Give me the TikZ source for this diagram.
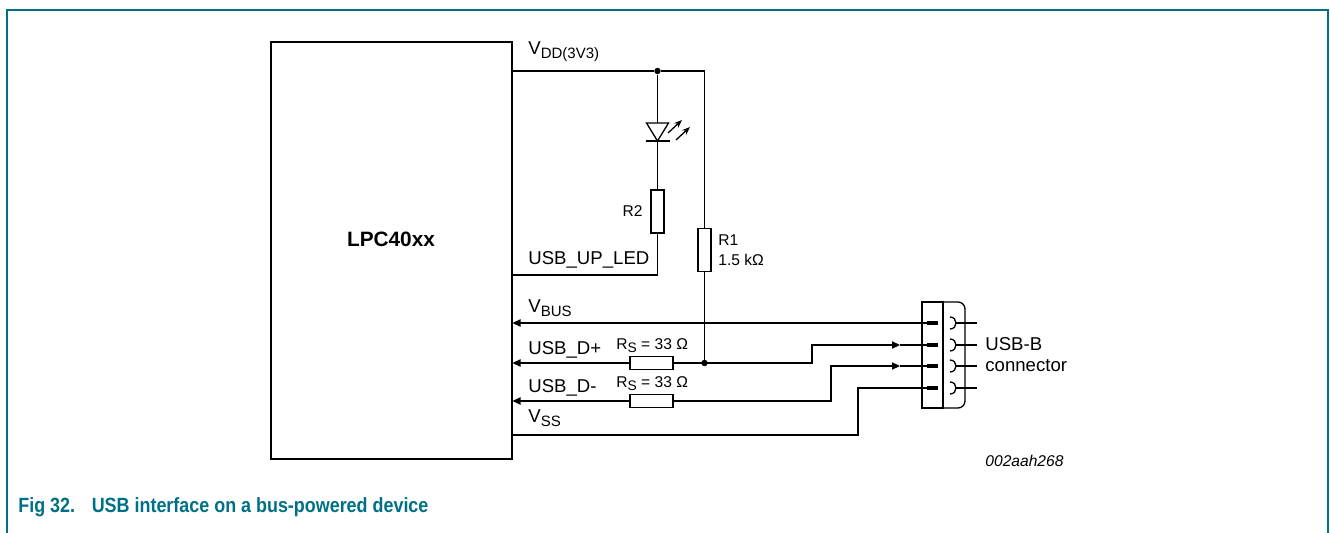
\documentclass[tikz,border=0pt]{standalone}
\usepackage{fontspec}
\setmainfont{Liberation Sans}
\newfontfamily\capfont[FakeStretch=0.87]{Liberation Sans}
\usetikzlibrary{arrows.meta}
\definecolor{nxpteal}{RGB}{0,112,134}
% text sizes
\newcommand\lblsize{\fontsize{9.3}{11}\selectfont}
\newcommand\valsize{\fontsize{7.8}{9.5}\selectfont}
\newcommand\subtxt[1]{\raisebox{-1.8pt}{\fontsize{7.5}{8.5}\selectfont #1}}
\newcommand\valsub[1]{\raisebox{-1.5pt}{\fontsize{6.9}{8}\selectfont #1}}

\begin{document}
\begin{tikzpicture}[x=0.5pt,y=-0.5pt,
    wire/.style={line width=0.65pt},
    sig/.style={wire, -{Triangle[length=4pt,width=3.6pt]}},
    res/.style={draw, line width=0.65pt, inner sep=0pt, fill=white},
    hres/.style={res, minimum width=21.5pt, minimum height=6.5pt},
    vres/.style={res, minimum width=6.5pt, minimum height=21.5pt},
    lbl/.style={font=\lblsize, inner sep=0pt, anchor=base west},
    val/.style={font=\valsize, inner sep=0pt, anchor=base west},
    junction/.style={circle, fill, inner sep=0pt, minimum size=3.2pt},
    pinbar/.style={line width=2pt}]
        % Picture size
        \useasboundingbox (0,0) rectangle (1330,533);

        % Frame round the figure
        \draw[nxpteal, line width=0.6pt] (7,533) -- (7,10) -- (1328,10) -- (1328,533);

        % The microcontroller
        \node[draw, line width=1pt, minimum width=120.5pt, minimum height=208.5pt, inner sep=0pt] (mcu) at (391,251) {};
        \node[font=\fontsize{10.4}{12}\selectfont\bfseries, inner sep=0pt, anchor=base] (mcuname) at (391,247) {LPC40xx};

        % Supply rail, R1 pull-up and LED branch
        \node[junction] (jled) at (657.5,71) {};
        \coordinate (vddc) at (704.5,71);
        \node[vres] (r1) at (704.5,250) {};
        \node[vres] (r2) at (657.5,211.5) {};
        \coordinate (ledtop) at (657.5,123);
        \coordinate (ledk) at (657.5,141);
        \coordinate (ledc) at (657.5,275);
        \draw[wire] (mcu.east |- jled) -- (jled) -- (vddc) -- (r1.north);
        \draw[wire] (jled) -- (ledtop);
        \draw[wire] (ledtop) -- ++(-11,0) -- (ledk) -- ++(11,-18) -- cycle;
        \draw[line width=1pt] ([xshift=-6pt]ledk) -- ([xshift=6pt]ledk);
        \draw[wire] (ledk) -- (r2.north);
        \draw[wire] (r2.south) -- (ledc) -- (mcu.east |- ledc);
        \draw[wire, -{Stealth[length=4pt,width=3pt]}] (668,133) -- (682,120);
        \draw[wire, -{Stealth[length=4pt,width=3pt]}] (676,140) -- (690,127);

        % The USB-B connector
        \draw[wire] (922,302) rectangle (943,408);
        \draw[wire, rounded corners=3.5pt] (943,302) -- (965,302) -- (965,408) -- (943,408);
        \foreach \y [count=\i] in {323,345,366,388} {
          \coordinate (pin\i) at (927,\y);
          \draw[pinbar] (pin\i) -- ++(11,0);
          \draw[wire] (950,\y-6) .. controls (958,\y-6) and (958,\y+6) .. (950,\y+6);
          \draw[wire] (956,\y) -- (977,\y);
        }

        % Bus lines
        \node[hres] (rsp) at (651.5,363) {};
        \node[hres] (rsm) at (651.5,401) {};
        \coordinate (dpbend) at (812,363);
        \coordinate (dptip) at (900,345);
        \coordinate (dmbend) at (831,401);
        \coordinate (dmtip) at (900,366);
        \coordinate (vssin) at (512,435);
        \coordinate (vssbend) at (858,435);
        \draw[sig] (pin1) -- (mcu.east |- pin1);
        \draw[sig] (rsp.west) -- (mcu.east |- rsp);
        \draw[sig] (rsp.east) -- (dpbend) |- (dptip);
        \draw[wire] (dptip) -- (pin2);
        \draw[sig] (rsm.west) -- (mcu.east |- rsm);
        \draw[sig] (rsm.east) -- (dmbend) |- (dmtip);
        \draw[wire] (dmtip) -- (pin3);
        \draw[wire] (mcu.east |- vssin) -- (vssbend) |- (pin4);
        \draw[wire] (r1.south) -- (704.5,363) node[junction] (jdp) {};

        % Labels
        \node[lbl] (vddlbl) at (528,55) {V\subtxt{DD(3V3)}};
        \node[lbl] (ledlbl) at (528,265) {USB\_UP\_LED};
        \node[lbl] (vbuslbl) at (528,313) {V\subtxt{BUS}};
        \node[lbl] (dplbl) at (528,355) {USB\_D+};
        \node[lbl] (dmlbl) at (528,393) {USB\_D-};
        \node[lbl] (vsslbl) at (528,423) {V\subtxt{SS}};
        \node[val, anchor=base east] (r2lbl) at (643,217) {R2};
        \node[val] (r1lbl) at (718,246) {R1};
        \node[val] (r1val) at (718,266) {1.5 kΩ};
        \node[val] (rsplbl) at (616,350) {R\valsub{S} = 33 Ω};
        \node[val] (rsmlbl) at (616,388) {R\valsub{S} = 33 Ω};
        \node[lbl] (conlbl) at (985,351) {USB-B};
        \node[lbl] (conlbl2) at (985,372) {connector};
        \node[val, font=\valsize\itshape] (figid) at (985,467) {002aah268};

        % Caption
        \node[anchor=base west, inner sep=0pt, font=\capfont\fontsize{10.3}{12}\selectfont\bfseries, text=nxpteal] (caption) at (18,513) {Fig 32.\hspace{5pt} USB interface on a bus-powered device};
      \end{tikzpicture}
\end{document}
